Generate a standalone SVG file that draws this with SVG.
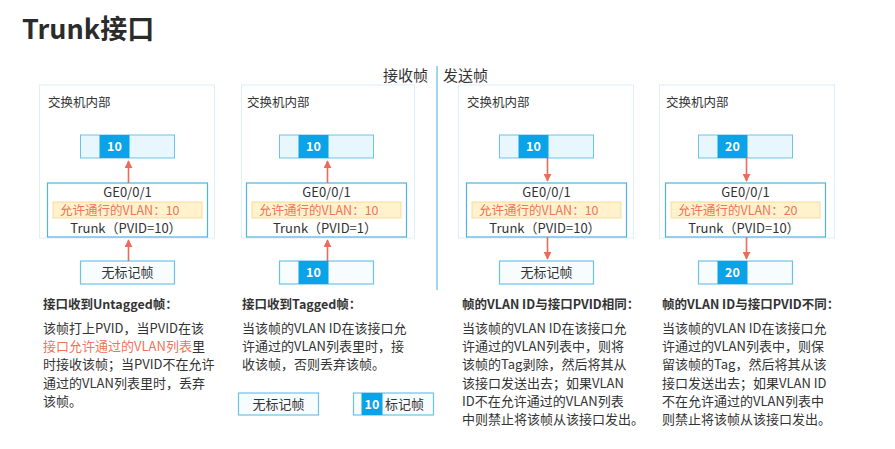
<svg xmlns="http://www.w3.org/2000/svg" width="895" height="449" viewBox="0 0 895 449">
<style>
text{font-family:"Noto Sans CJK SC","Noto Sans",sans-serif;fill:#333}
.title{font-size:27px;font-weight:bold;fill:#2b2b2b}
.hdr{font-size:15px}
.outer{fill:#fff;stroke:#dcf0f7;stroke-width:1}
.ge{fill:#fff;stroke:#4fb3e0;stroke-width:1.2}
.bar{fill:#e8f7fd;stroke:#6cc3e8;stroke-width:1}
.cell{fill:#0aa3e8}
.box{fill:#f7fcfe;stroke:#6cc3e8;stroke-width:1.2}
.yel{fill:#fff2cc;stroke:#f8dc9c;stroke-width:1}
.lbl{font-size:12.5px}
.get{font-size:13px;text-anchor:middle}
.red{font-size:12.5px;fill:#f2735a}
.num{font-size:12.5px;fill:#fff;font-weight:bold;text-anchor:middle}
.fr{font-size:13px;text-anchor:middle}
.h{font-size:12.5px;font-weight:bold}
.b{font-size:13px}
.rt{fill:#f2735a}
.arr{stroke:#ef6a58;stroke-width:1.6;fill:none;marker-end:url(#ah)}
</style>
<defs>
<marker id="ah" viewBox="0 0 10 10" refX="9" refY="5" markerWidth="8" markerHeight="8" orient="auto" markerUnits="userSpaceOnUse">
<path d="M0,0 L10,5 L0,10 z" fill="#ef6a58"/>
</marker>
</defs>

<text class="title" x="22" y="39">Trunk接口</text>
<g id="header">
<text class="hdr" x="428" y="81" text-anchor="end">接收帧</text>
<line x1="437" y1="66" x2="437" y2="290" stroke="#3bb0d8" stroke-width="1"/>
<text class="hdr" x="443" y="81">发送帧</text>
</g>

<!-- Panel 1 -->
<g id="panel1">
<rect class="outer" x="39.5" y="85" width="175" height="153"/>
<text class="lbl" x="48" y="107">交换机内部</text>
</g>
<g id="p1-vlan">
<rect class="bar" x="80.5" y="135" width="94" height="23"/>
<rect class="cell" x="99.5" y="135" width="30" height="23"/>
<text class="num" x="114.5" y="151">10</text>
</g>
<g id="p1-port">
<rect class="ge" x="47.5" y="183" width="160" height="54"/>
<text class="get" x="127.5" y="197">GE0/0/1</text>
<rect class="yel" x="53" y="202" width="149" height="16"/>
<text class="red" x="60" y="214.5">允许通行的VLAN：10</text>
<text class="get" x="126" y="233">Trunk（PVID=10）</text>
</g>
<g id="p1-frame">
<rect class="box" x="80.5" y="261" width="94" height="23"/>
<text class="fr" x="127.5" y="277">无标记帧</text>
</g>
<g id="p1-desc">
<text class="h" x="43" y="309">接口收到Untagged帧：</text>
<text class="b" x="43" y="333">该帧打上PVID，当PVID在该</text>
<text class="b" x="43" y="351"><tspan class="rt">接口允许通过的VLAN列表</tspan>里</text>
<text class="b" x="43" y="369">时接收该帧；当PVID不在允许</text>
<text class="b" x="43" y="388">通过的VLAN列表里时，丢弃</text>
<text class="b" x="43" y="406">该帧。</text>
</g>

<!-- Panel 2 -->
<g id="panel2">
<rect class="outer" x="241.5" y="85" width="173" height="153"/>
<text class="lbl" x="247" y="107">交换机内部</text>
</g>
<g id="p2-vlan">
<rect class="bar" x="279.5" y="135" width="94" height="23"/>
<rect class="cell" x="298.5" y="135" width="30" height="23"/>
<text class="num" x="313.5" y="151">10</text>
</g>
<g id="p2-port">
<rect class="ge" x="246.5" y="183" width="160" height="54"/>
<text class="get" x="326.5" y="197">GE0/0/1</text>
<rect class="yel" x="252" y="202" width="149" height="16"/>
<text class="red" x="259" y="214.5">允许通行的VLAN：10</text>
<text class="get" x="325" y="233">Trunk（PVID=1）</text>
</g>
<g id="p2-frame">
<rect class="box" x="279.5" y="261" width="94" height="23"/>
<rect class="cell" x="298.5" y="261" width="30" height="23"/>
<text class="num" x="313.5" y="277">10</text>
</g>
<g id="p2-desc">
<text class="h" x="242" y="309">接口收到Tagged帧：</text>
<text class="b" x="242" y="333">当该帧的VLAN ID在该接口允</text>
<text class="b" x="242" y="351">许通过的VLAN列表里时，接</text>
<text class="b" x="242" y="369">收该帧，否则丢弃该帧。</text>
</g>
<g id="legend-untagged">
<rect class="box" x="238.5" y="393" width="80" height="22"/>
<text class="fr" x="278.5" y="409">无标记帧</text>
</g>
<g id="legend-tagged">
<rect class="box" x="353.5" y="393" width="80" height="22"/>
<rect class="cell" x="361.5" y="393" width="21" height="22"/>
<text class="num" x="372" y="409">10</text>
<text class="b" x="385" y="409">标记帧</text>
</g>

<!-- Panel 3 -->
<g id="panel3">
<rect class="outer" x="458.5" y="85" width="175" height="153"/>
<text class="lbl" x="467" y="107">交换机内部</text>
</g>
<g id="p3-vlan">
<rect class="bar" x="499.5" y="135" width="94" height="23"/>
<rect class="cell" x="518.5" y="135" width="30" height="23"/>
<text class="num" x="533.5" y="151">10</text>
</g>
<g id="p3-port">
<rect class="ge" x="466.5" y="183" width="160" height="54"/>
<text class="get" x="546.5" y="197">GE0/0/1</text>
<rect class="yel" x="472" y="202" width="149" height="16"/>
<text class="red" x="479" y="214.5">允许通行的VLAN：10</text>
<text class="get" x="545" y="233">Trunk（PVID=10）</text>
</g>
<g id="p3-frame">
<rect class="box" x="499.5" y="261" width="94" height="23"/>
<text class="fr" x="546.5" y="277">无标记帧</text>
</g>
<g id="p3-desc">
<text class="h" x="462" y="309">帧的VLAN ID与接口PVID相同：</text>
<text class="b" x="462" y="333">当该帧的VLAN ID在该接口允</text>
<text class="b" x="462" y="351">许通过的VLAN列表中，则将</text>
<text class="b" x="462" y="369">该帧的Tag剥除，然后将其从</text>
<text class="b" x="462" y="388">该接口发送出去；如果VLAN</text>
<text class="b" x="462" y="406">ID不在允许通过的VLAN列表</text>
<text class="b" x="462" y="424">中则禁止将该帧从该接口发出。</text>
</g>

<!-- Panel 4 -->
<g id="panel4">
<rect class="outer" x="659.5" y="85" width="175" height="153"/>
<text class="lbl" x="666" y="107">交换机内部</text>
</g>
<g id="p4-vlan">
<rect class="bar" x="698.5" y="135" width="94" height="23"/>
<rect class="cell" x="717.5" y="135" width="30" height="23"/>
<text class="num" x="732.5" y="151">20</text>
</g>
<g id="p4-port">
<rect class="ge" x="665.5" y="183" width="160" height="54"/>
<text class="get" x="745.5" y="197">GE0/0/1</text>
<rect class="yel" x="671" y="202" width="149" height="16"/>
<text class="red" x="678" y="214.5">允许通行的VLAN：20</text>
<text class="get" x="744" y="233">Trunk（PVID=10）</text>
</g>
<g id="p4-frame">
<rect class="box" x="698.5" y="261" width="94" height="23"/>
<rect class="cell" x="717.5" y="261" width="30" height="23"/>
<text class="num" x="732.5" y="277">20</text>
</g>
<g id="p4-desc">
<text class="h" x="662" y="309">帧的VLAN ID与接口PVID不同：</text>
<text class="b" x="662" y="333">当该帧的VLAN ID在该接口允</text>
<text class="b" x="662" y="351">许通过的VLAN列表中，则保</text>
<text class="b" x="662" y="369">留该帧的Tag，然后将其从该</text>
<text class="b" x="662" y="388">接口发送出去；如果VLAN ID</text>
<text class="b" x="662" y="406">不在允许通过的VLAN列表中</text>
<text class="b" x="662" y="424">则禁止将该帧从该接口发出。</text>
</g>

<g id="connectors">
<line class="arr" x1="128.5" y1="183" x2="128.5" y2="161"/>
<line class="arr" x1="128.5" y1="261" x2="128.5" y2="240"/>
<line class="arr" x1="327.5" y1="183" x2="327.5" y2="161"/>
<line class="arr" x1="327.5" y1="261" x2="327.5" y2="240"/>
<line class="arr" x1="547.5" y1="158" x2="547.5" y2="181"/>
<line class="arr" x1="547.5" y1="237" x2="547.5" y2="259"/>
<line class="arr" x1="746.5" y1="158" x2="746.5" y2="181"/>
<line class="arr" x1="746.5" y1="237" x2="746.5" y2="259"/>
</g>
</svg>
